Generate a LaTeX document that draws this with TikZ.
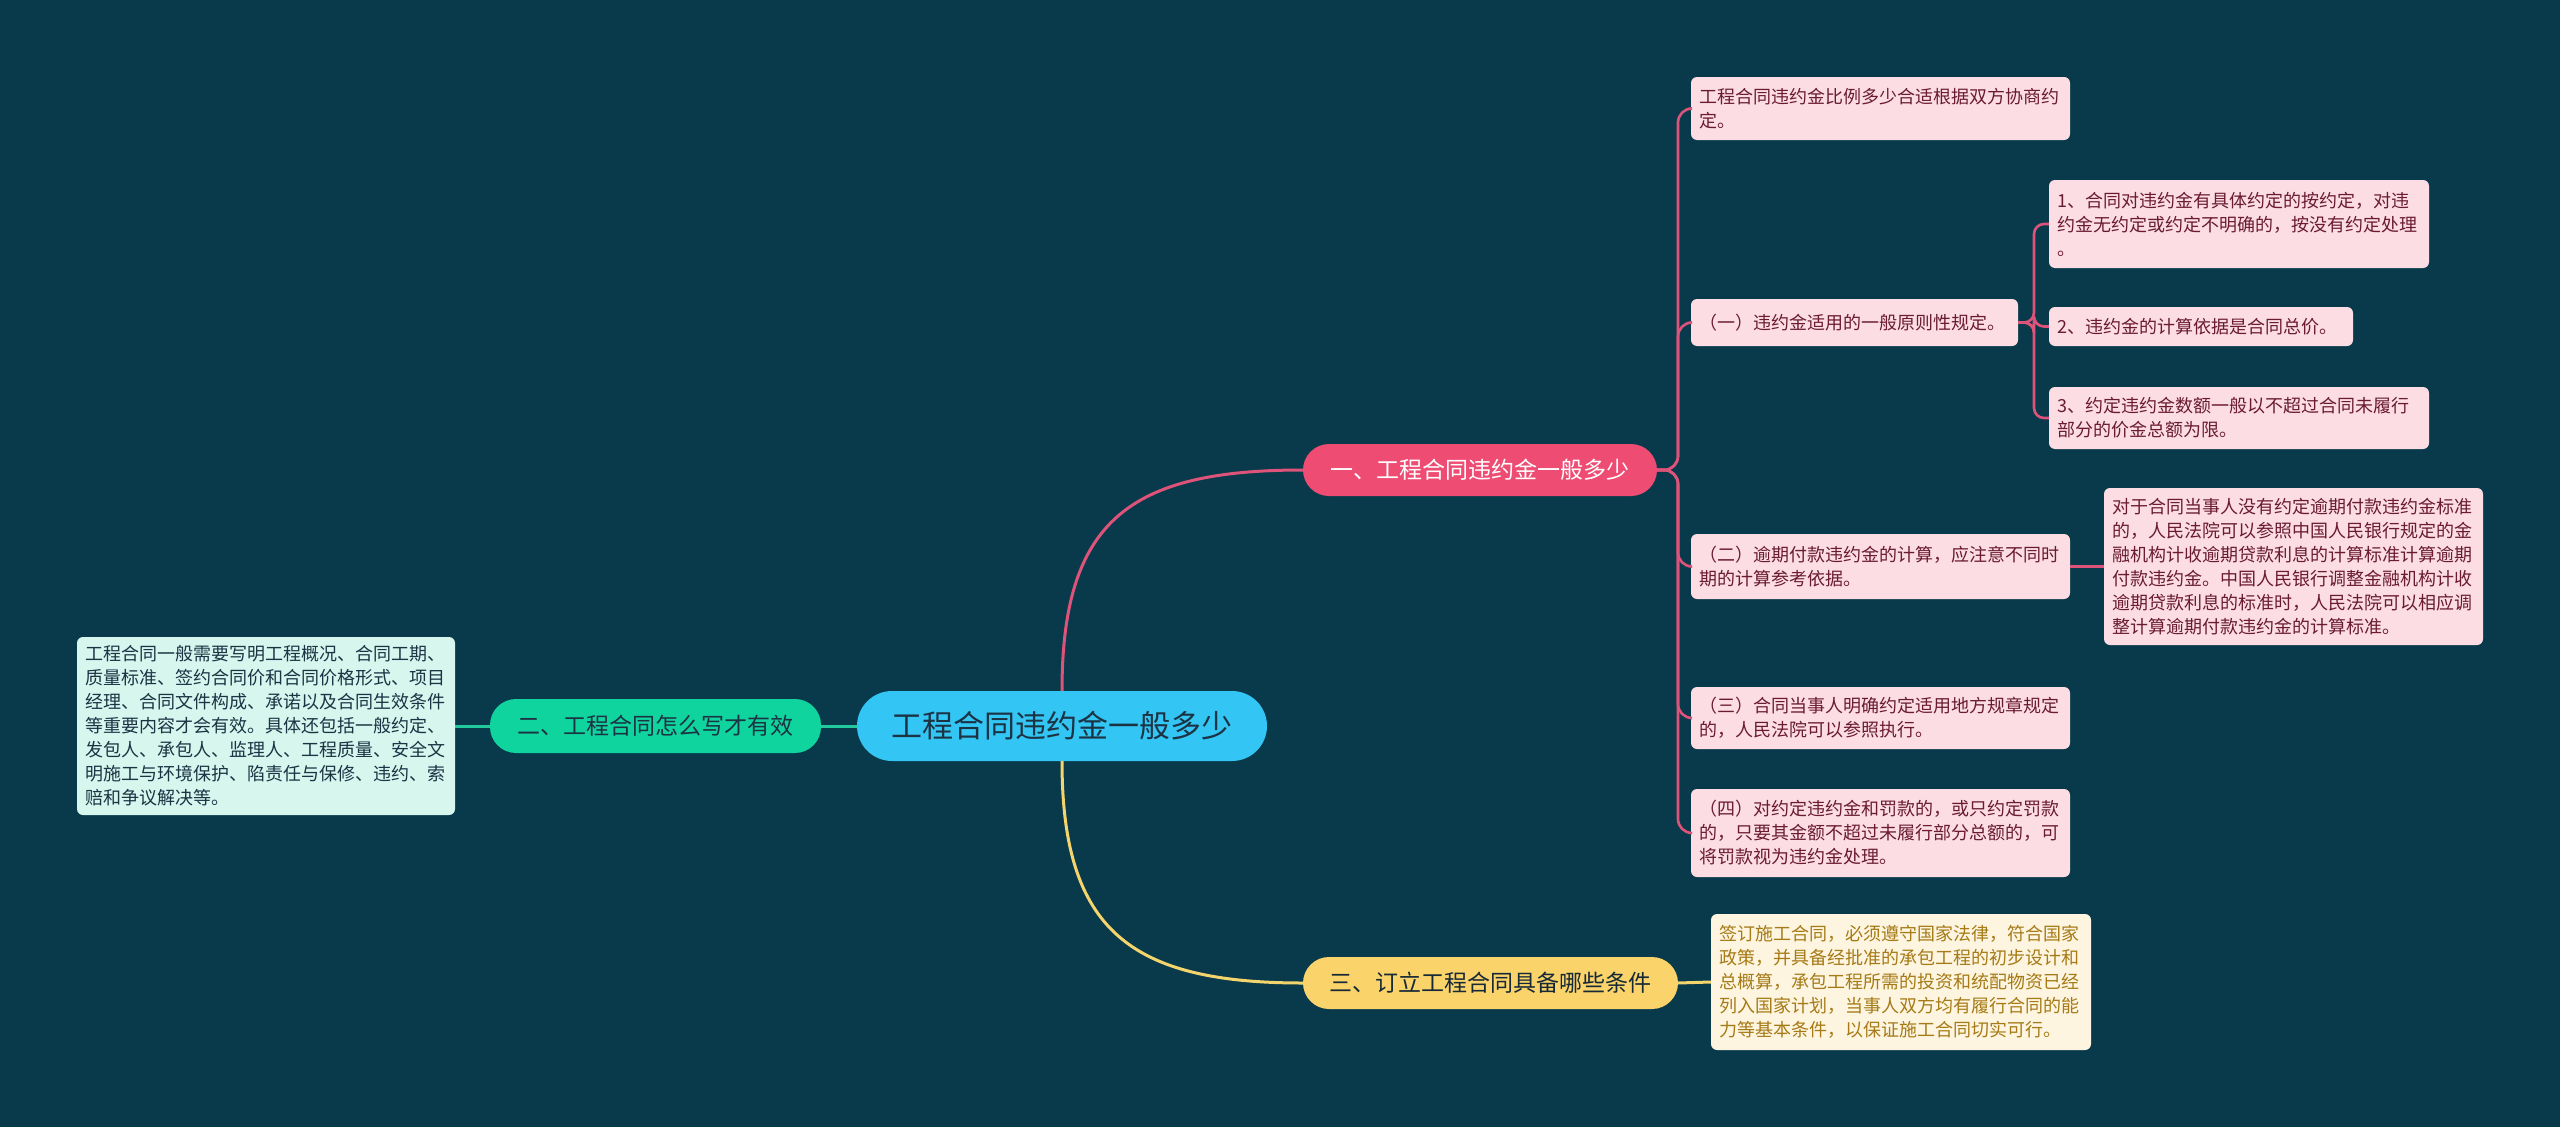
\documentclass[tikz,border=0pt]{standalone}
\usepackage{fontspec}
\setmainfont{Noto Sans CJK SC}
\definecolor{bg}{HTML}{083A4C}
\definecolor{cfill}{HTML}{33C5F3}
\definecolor{darktext}{HTML}{1C3344}
\definecolor{gfill}{HTML}{10D49E}
\definecolor{gleaf}{HTML}{D6F6EE}
\definecolor{gline}{HTML}{22C99C}
\definecolor{pfill}{HTML}{EE4C73}
\definecolor{pleaf}{HTML}{FCDDE4}
\definecolor{ptext}{HTML}{6A1B33}
\definecolor{pline}{HTML}{DE537A}
\definecolor{yfill}{HTML}{FAD36A}
\definecolor{yleaf}{HTML}{FDF5DF}
\definecolor{ytext}{HTML}{A67A16}
\definecolor{yline}{HTML}{F4D46C}
\tikzset{
  mainbox/.style={rounded corners=26pt, inner sep=0pt, align=center, font=\fontsize{23}{28}\selectfont},
  leafbox/.style={rounded corners=6pt, inner xsep=8pt, inner ysep=0pt, align=left, font=\fontsize{18}{24}\selectfont},
  pinkleaf/.style={leafbox, fill=pleaf, text=ptext},
  pinkline/.style={draw=pline, line width=2.6pt},
}
\begin{document}
\begin{tikzpicture}[x=1pt,y=-1pt]
\fill[bg] (0,0) rectangle (2560,1127);
\useasboundingbox (0,0) rectangle (2560,1127);

% central and main nodes
\node[mainbox, rounded corners=35pt, fill=cfill, text=darktext, minimum width=410pt, minimum height=70pt, font=\fontsize{31}{36}\selectfont] (c) at (1062,726) {工程合同违约金一般多少};
\node[mainbox, fill=gfill, text=darktext, minimum width=331pt, minimum height=54pt] (n2) at (655.5,726) {二、工程合同怎么写才有效};
\node[mainbox, fill=pfill, text=white, minimum width=354pt, minimum height=52pt] (n1) at (1480,470) {一、工程合同违约金一般多少};
\node[mainbox, fill=yfill, text=darktext!80!black, minimum width=375pt, minimum height=52pt] (n3) at (1490.5,983) {三、订立工程合同具备哪些条件};

% left leaf
\node[leafbox, fill=gleaf, text=darktext, text width=362pt, minimum height=178pt] (lL) at (266,726) {工程合同一般需要写明工程概况、合同工期、\\质量标准、签约合同价和合同价格形式、项目\\经理、合同文件构成、承诺以及合同生效条件\\等重要内容才会有效。具体还包括一般约定、\\发包人、承包人、监理人、工程质量、安全文\\明施工与环境保护、陷责任与保修、违约、索\\赔和争议解决等。};

% yellow leaf
\node[leafbox, fill=yleaf, text=ytext, text width=364pt, minimum height=136pt] (lY) at (1901,982) {签订施工合同，必须遵守国家法律，符合国家\\政策，并具备经批准的承包工程的初步设计和\\总概算，承包工程所需的投资和统配物资已经\\列入国家计划，当事人双方均有履行合同的能\\力等基本条件，以保证施工合同切实可行。};

% pink leaves
\node[pinkleaf, text width=363pt, minimum height=63pt] (p0) at (1880.5,108.5) {工程合同违约金比例多少合适根据双方协商约\\定。};
\node[pinkleaf, text width=311pt, minimum height=47pt] (p1) at (1854.5,322.5) {（一）违约金适用的一般原则性规定。};
\node[pinkleaf, text width=364pt, minimum height=88pt] (p1a) at (2239,224) {1、合同对违约金有具体约定的按约定，对违\\约金无约定或约定不明确的，按没有约定处理\\。};
\node[pinkleaf, text width=288pt, minimum height=39pt] (p1b) at (2201,326.5) {2、违约金的计算依据是合同总价。};
\node[pinkleaf, text width=364pt, minimum height=62pt] (p1c) at (2239,418) {3、约定违约金数额一般以不超过合同未履行\\部分的价金总额为限。};
\node[pinkleaf, text width=363pt, minimum height=65pt] (p2) at (1880.5,566.5) {（二）逾期付款违约金的计算，应注意不同时\\期的计算参考依据。};
\node[pinkleaf, text width=363pt, minimum height=157pt] (p2a) at (2293.5,566.5) {对于合同当事人没有约定逾期付款违约金标准\\的，人民法院可以参照中国人民银行规定的金\\融机构计收逾期贷款利息的计算标准计算逾期\\付款违约金。中国人民银行调整金融机构计收\\逾期贷款利息的标准时，人民法院可以相应调\\整计算逾期付款违约金的计算标准。};
\node[pinkleaf, text width=363pt, minimum height=62pt] (p3) at (1880.5,718) {（三）合同当事人明确约定适用地方规章规定\\的，人民法院可以参照执行。};
\node[pinkleaf, text width=363pt, minimum height=88pt] (p4) at (1880.5,833) {（四）对约定违约金和罚款的，或只约定罚款\\的，只要其金额不超过未履行部分总额的，可\\将罚款视为违约金处理。};

% connectors
\draw[pline, line width=3pt] (c.north) .. controls (1062,520) and (1130,470) .. (n1.west);
\draw[yline, line width=3pt] (c.south) .. controls (1062,930) and (1130,983) .. (n3.west);
\draw[gline, line width=3pt] (c.west) -- (n2.east);
\draw[gline, line width=3pt] (n2.west) -- (lL.east);
\draw[yline, line width=3pt] (n3.east) -- (lY.west);

\coordinate (sp) at (1678,470);
\foreach \t in {p0,p1,p2,p3,p4}{
  \draw[pinkline, rounded corners=14pt] (n1.east) -- (sp) |- (\t.west);
}
\coordinate (sq) at (2034,322.5);
\foreach \t in {p1a,p1b,p1c}{
  \draw[pinkline, rounded corners=10pt] (p1.east) -- (sq) |- (\t.west);
}
\draw[pinkline] (p2.east) -- (p2a.west);
\end{tikzpicture}
\end{document}
